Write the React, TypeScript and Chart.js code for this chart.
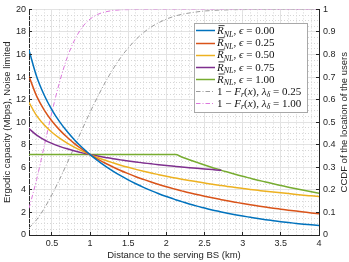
import React, { useEffect, useRef } from "react";
import { Chart, registerables } from "chart.js";

Chart.register(...registerables);

// ---------- data ----------
const distanceKm = [
  0.2, 0.3, 0.4, 0.5, 0.6, 0.7, 0.8, 0.9, 1.0, 1.1, 1.2, 1.3, 1.4, 1.5, 1.6, 1.7, 1.8, 1.9, 2.0, 2.1,
  2.12, 2.2, 2.3, 2.4, 2.5, 2.6, 2.7, 2.72, 2.8, 2.9, 3.0, 3.1, 3.2, 3.3, 3.4, 3.5, 3.6, 3.7, 3.8, 3.9, 4.0,
];

const rateEps000 = [
  16.39, 14.05, 12.39, 11.1, 10.05, 9.17, 8.4, 7.73, 7.13, 6.6, 6.11, 5.67, 5.26, 4.89, 4.54, 4.22, 3.93, 3.66, 3.41, 3.18,
  3.13, 2.96, 2.75, 2.56, 2.39, 2.22, 2.07, 2.04, 1.93, 1.8, 1.68, 1.57, 1.46, 1.36, 1.27, 1.18, 1.1, 1.03, 0.96, 0.9, 0.85,
];
const rateEps025 = [
  14.07, 12.31, 11.07, 10.1, 9.32, 8.66, 8.08, 7.58, 7.13, 6.73, 6.36, 6.03, 5.72, 5.44, 5.17, 4.93, 4.7, 4.48, 4.28, 4.09,
  4.05, 3.91, 3.74, 3.59, 3.44, 3.3, 3.16, 3.13, 3.03, 2.91, 2.79, 2.68, 2.58, 2.48, 2.38, 2.29, 2.2, 2.12, 2.04, 1.96, 1.89,
];
const rateEps050 = [
  11.75, 10.58, 9.75, 9.11, 8.59, 8.15, 7.77, 7.43, 7.13, 6.87, 6.62, 6.4, 6.19, 6.0, 5.82, 5.65, 5.49, 5.35, 5.21, 5.07,
  5.05, 4.95, 4.83, 4.72, 4.61, 4.5, 4.4, 4.38, 4.31, 4.22, 4.13, 4.04, 3.96, 3.88, 3.81, 3.74, 3.67, 3.6, 3.53, 3.47, 3.41,
];
const rateEps075 = [
  9.43, 8.85, 8.44, 8.12, 7.86, 7.64, 7.45, 7.28, 7.13, 7.0, 6.88, 6.76, 6.66, 6.56, 6.47, 6.39, 6.31, 6.23, 6.16, 6.09,
  6.08, 6.03, 5.97, 5.91, 5.85, 5.8, 5.74, 5.73, null, null, null, null, null, null, null, null, null, null, null, null, null,
];
const rateEps100 = [
  7.13, 7.13, 7.13, 7.13, 7.13, 7.13, 7.13, 7.13, 7.13, 7.13, 7.13, 7.13, 7.13, 7.13, 7.13, 7.13, 7.13, 7.13, 7.13, 7.13,
  7.13, 6.92, 6.67, 6.44, 6.21, 5.99, 5.78, 5.73, 5.58, 5.39, 5.2, 5.03, 4.86, 4.7, 4.54, 4.39, 4.24, 4.1, 3.96, 3.83, 3.71,
];
const ccdfLambda025 = [
  0.031, 0.068, 0.118, 0.178, 0.246, 0.319, 0.395, 0.471, 0.544, 0.613, 0.677, 0.735, 0.786, 0.829, 0.866, 0.897, 0.922, 0.941, 0.957, 0.969,
  0.971, 0.978, 0.984, 0.989, 0.993, 0.995, 0.997, 0.997, 0.998, 0.999, 0.999, 1.0, 1.0, 1.0, 1.0, 1.0, 1.0, 1.0, 1.0, 1.0, 1.0,
];
const ccdfLambda100 = [
  0.118, 0.246, 0.395, 0.544, 0.677, 0.786, 0.866, 0.922, 0.957, 0.978, 0.989, 0.995, 0.998, 0.999, 1.0, 1.0, 1.0, 1.0, 1.0, 1.0,
  1.0, 1.0, 1.0, 1.0, 1.0, 1.0, 1.0, 1.0, 1.0, 1.0, 1.0, 1.0, 1.0, 1.0, 1.0, 1.0, 1.0, 1.0, 1.0, 1.0, 1.0,
];

const seriesNames = [
  "R̄_NL, ϵ = 0.00",
  "R̄_NL, ϵ = 0.25",
  "R̄_NL, ϵ = 0.50",
  "R̄_NL, ϵ = 0.75",
  "R̄_NL, ϵ = 1.00",
  "1 − F_r(x), λ_δ = 0.25",
  "1 − F_r(x), λ_δ = 1.00",
];

type Part = { t: string; it?: boolean; sub?: boolean; bar?: boolean };
const rateLegend = (eps: string): Part[] => [
  { t: "R", it: true, bar: true },
  { t: "NL", it: true, sub: true },
  { t: ", " },
  { t: "ϵ", it: true },
  { t: " = " + eps },
];
const ccdfLegend = (lam: string): Part[] => [
  { t: "1 − " },
  { t: "F", it: true },
  { t: "r", it: true, sub: true },
  { t: "(" },
  { t: "x", it: true },
  { t: "), " },
  { t: "λ", it: true },
  { t: "δ", it: true, sub: true },
  { t: " = " + lam },
];
const legendParts: Part[][] = [
  rateLegend("0.00"),
  rateLegend("0.25"),
  rateLegend("0.50"),
  rateLegend("0.75"),
  rateLegend("1.00"),
  ccdfLegend("0.25"),
  ccdfLegend("1.00"),
];

const xTickValues = [0.5, 1, 1.5, 2, 2.5, 3, 3.5, 4];
const leftTickValues = [0, 2, 4, 6, 8, 10, 12, 14, 16, 18, 20];
const rightTickValues = [0, 0.1, 0.2, 0.3, 0.4, 0.5, 0.6, 0.7, 0.8, 0.9, 1];

const xTitle = "Distance to the serving BS (km)";
const leftTitle = "Ergodic capacity (Mbps), Noise limited";
const rightTitle = "CCDF of the location of the users";

// ---------- styles ----------
const AXIS = "#262626";
const SANS = "'Liberation Sans', Arial, Helvetica, sans-serif";
const SERIF = "'Liberation Serif', 'DejaVu Serif', 'Times New Roman', serif";
const colors = ["#0072BD", "#D95319", "#EDB120", "#7E2F8E", "#77AC30", "#9c9c9c", "#dc78dc"];
const DASHDOT = [4.5, 2, 1, 2];

const align = (p: number) => Math.round(p - 0.5) + 0.5;

const minorGridPlugin = {
  id: "minorGrid",
  beforeDatasetsDraw(chart: any) {
    const { ctx, chartArea } = chart;
    const { left, right, top, bottom } = chartArea;
    const x = chart.scales.x;
    const y = chart.scales.y;
    ctx.save();
    ctx.strokeStyle = "#d6d6d6";
    ctx.lineWidth = 1;
    ctx.setLineDash([1, 2]);
    ctx.beginPath();
    for (let k = 3; k <= 39; k++) {
      if (k % 5 === 0) continue;
      const px = align(x.getPixelForValue(k / 10));
      ctx.moveTo(px, top);
      ctx.lineTo(px, bottom);
    }
    for (let k = 1; k < 40; k++) {
      if (k % 4 === 0) continue;
      const py = align(y.getPixelForValue(k * 0.5));
      ctx.moveTo(left, py);
      ctx.lineTo(right, py);
    }
    ctx.stroke();
    ctx.restore();
  },
};

const axesDecorPlugin = {
  id: "axesDecor",
  afterDatasetsDraw(chart: any) {
    const { ctx, chartArea } = chart;
    const { left, right, top, bottom } = chartArea;
    const { x, y, y1 } = chart.scales;
    const L = 3;
    ctx.save();
    ctx.strokeStyle = AXIS;
    ctx.lineWidth = 1;
    ctx.setLineDash([]);
    ctx.beginPath();
    leftTickValues.forEach((v) => {
      const py = align(y.getPixelForValue(v));
      ctx.moveTo(left, py);
      ctx.lineTo(left + L, py);
    });
    rightTickValues.forEach((v) => {
      const py = align(y1.getPixelForValue(v));
      ctx.moveTo(right, py);
      ctx.lineTo(right - L, py);
    });
    xTickValues.forEach((v) => {
      const px = align(x.getPixelForValue(v));
      ctx.moveTo(px, bottom);
      ctx.lineTo(px, bottom - L);
    });
    ctx.stroke();
    ctx.restore();
  },
  afterDraw(chart: any) {
    const { ctx, chartArea } = chart;
    const { right, top, bottom } = chartArea;
    // right axis title, reading bottom-to-top
    ctx.save();
    ctx.fillStyle = AXIS;
    ctx.font = `9.5px ${SANS}`;
    ctx.textAlign = "center";
    ctx.textBaseline = "middle";
    ctx.translate(chart.width - 5, (top + bottom) / 2);
    ctx.rotate(-Math.PI / 2);
    ctx.fillText(rightTitle, 0, 0);
    ctx.restore();

    // legend
    const boxW = 113;
    const boxH = 89;
    const bx = right - 125;
    const by = top + 14;
    ctx.save();
    ctx.fillStyle = "#ffffff";
    ctx.fillRect(bx, by, boxW, boxH);
    ctx.strokeStyle = "#a8a8a8";
    ctx.lineWidth = 1;
    ctx.strokeRect(Math.round(bx) + 0.5, Math.round(by) + 0.5, boxW, boxH);
    const mainSize = 11;
    const subSize = 8;
    legendParts.forEach((parts, i) => {
      const cy = by + 7 + i * 12.1;
      const ds = chart.data.datasets[i];
      ctx.strokeStyle = ds.borderColor;
      ctx.lineWidth = ds.borderWidth;
      ctx.setLineDash(ds.borderDash || []);
      ctx.beginPath();
      ctx.moveTo(bx + 2, Math.round(cy) + 0.5);
      ctx.lineTo(bx + 21, Math.round(cy) + 0.5);
      ctx.stroke();
      ctx.setLineDash([]);
      let tx = bx + 23;
      const base = cy + 3.8;
      ctx.fillStyle = "#111111";
      ctx.textAlign = "left";
      ctx.textBaseline = "alphabetic";
      parts.forEach((p) => {
        const size = p.sub ? subSize : mainSize;
        ctx.font = `${p.it ? "italic " : ""}${size}px ${SERIF}`;
        const yb = p.sub ? base + 2.5 : base;
        ctx.fillText(p.t, tx, yb);
        const w = ctx.measureText(p.t).width;
        if (p.bar) {
          ctx.strokeStyle = "#111111";
          ctx.lineWidth = 0.8;
          ctx.beginPath();
          ctx.moveTo(tx + 1.5, yb - 8.6);
          ctx.lineTo(tx + w + 0.8, yb - 8.6);
          ctx.stroke();
        }
        tx += w;
      });
    });
    ctx.restore();
  },
};

const tickFont = { family: SANS, size: 9 };
const titleFont = { family: SANS, size: 9.5 };

export default function App() {
  const ref = useRef<HTMLCanvasElement | null>(null);

  useEffect(() => {
    if (!ref.current) return;
    const rateSeries = [rateEps000, rateEps025, rateEps050, rateEps075, rateEps100];
    const ccdfSeries = [ccdfLambda025, ccdfLambda100];
    const toPoints = (vals: (number | null)[]) => distanceKm.map((x, i) => ({ x, y: vals[i] }));

    const datasets: any[] = [
      ...rateSeries.map((vals, i) => ({
        label: seriesNames[i],
        data: toPoints(vals),
        yAxisID: "y",
        borderColor: colors[i],
        borderWidth: 1.5,
        pointRadius: 0,
        fill: false,
        cubicInterpolationMode: "monotone",
      })),
      ...ccdfSeries.map((vals, j) => ({
        label: seriesNames[5 + j],
        data: toPoints(vals),
        yAxisID: "y1",
        borderColor: colors[5 + j],
        borderWidth: 1,
        borderDash: DASHDOT,
        pointRadius: 0,
        fill: false,
        cubicInterpolationMode: "monotone",
      })),
    ];

    const chart = new Chart(ref.current, {
      type: "line",
      data: { datasets },
      plugins: [minorGridPlugin, axesDecorPlugin],
      options: {
        animation: false,
        responsive: false,
        devicePixelRatio: 1,
        layout: { padding: { top: 3, left: 0, right: 0, bottom: 0 } },
        plugins: { legend: { display: false }, tooltip: { enabled: false } },
        scales: {
          x: {
            type: "linear",
            min: 0.2,
            max: 4,
            afterBuildTicks: (s: any) => {
              s.ticks = xTickValues.map((value) => ({ value }));
            },
            afterFit: (s: any) => {
              s.height = 27;
            },
            ticks: { font: tickFont, color: AXIS, padding: 3, maxRotation: 0, autoSkip: false, callback: (v: any) => String(v) },
            grid: { color: "#e3e3e3", drawTicks: false, lineWidth: 1 },
            border: { display: true, color: AXIS, width: 1 },
            title: { display: true, text: xTitle, font: titleFont, color: AXIS, padding: { top: 0, bottom: 1 } },
          },
          y: {
            type: "linear",
            position: "left",
            min: 0,
            max: 20,
            afterBuildTicks: (s: any) => {
              s.ticks = leftTickValues.map((value) => ({ value }));
            },
            afterFit: (s: any) => {
              s.width = 29;
            },
            ticks: { font: tickFont, color: AXIS, padding: 3, autoSkip: false, callback: (v: any) => String(v) },
            grid: { color: "#e3e3e3", drawTicks: false, lineWidth: 1 },
            border: { display: true, color: AXIS, width: 1 },
            title: { display: true, text: leftTitle, font: titleFont, color: AXIS, padding: { top: 1.5, bottom: 0 } },
          },
          y1: {
            type: "linear",
            position: "right",
            min: 0,
            max: 1,
            afterBuildTicks: (s: any) => {
              s.ticks = rightTickValues.map((value) => ({ value }));
            },
            afterFit: (s: any) => {
              s.width = 30;
            },
            ticks: { font: tickFont, color: AXIS, padding: 4, autoSkip: false, callback: (v: any) => String(v) },
            grid: { display: false, drawOnChartArea: false, drawTicks: false },
            border: { display: true, color: AXIS, width: 1 },
            title: { display: false },
          },
        },
      },
    } as any);

    return () => chart.destroy();
  }, []);

  return (
    <div style={{ position: "absolute", left: 0, top: 0, width: 349, height: 262, background: "#ffffff" }}>
      <canvas ref={ref} width={349} height={262} style={{ display: "block", width: 349, height: 262 }} />
    </div>
  );
}
